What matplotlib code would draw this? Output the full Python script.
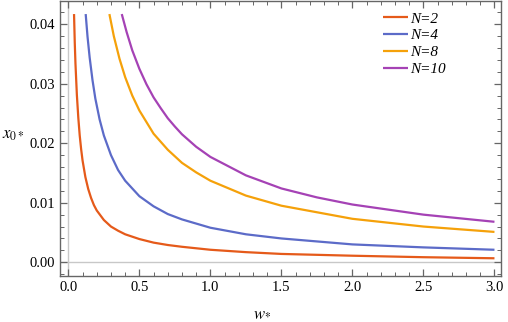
import matplotlib
matplotlib.use('Agg')
import matplotlib.pyplot as plt
from matplotlib.ticker import MultipleLocator

# ── Datos ────────────────────────────────────────────────────
w_n2 = [0.040, 0.045, 0.050, 0.060, 0.070, 0.080, 0.090, 0.100, 0.120, 0.140,
        0.160, 0.180, 0.200, 0.250, 0.300, 0.350, 0.400, 0.500, 0.600, 0.700,
        0.800, 1.000, 1.250, 1.500, 2.000, 2.500, 3.000]
x_n2 = [0.0417, 0.0370, 0.0334, 0.0281, 0.0243, 0.0213, 0.0190, 0.0171, 0.0143, 0.0123,
        0.0108, 0.0096, 0.0087, 0.0071, 0.0060, 0.0053, 0.0047, 0.0039, 0.0033, 0.0029,
        0.0026, 0.0021, 0.0017, 0.0014, 0.0011, 0.00085, 0.00067]

w_n4 = [0.122, 0.135, 0.150, 0.170, 0.190, 0.220, 0.250, 0.300, 0.350, 0.400,
        0.500, 0.600, 0.700, 0.800, 1.000, 1.250, 1.500, 2.000, 2.500, 3.000]
x_n4 = [0.0417, 0.0379, 0.0344, 0.0306, 0.0275, 0.0240, 0.0213, 0.0180, 0.0155, 0.0137,
        0.0111, 0.0094, 0.0081, 0.0072, 0.0058, 0.0047, 0.0040, 0.0030, 0.0025, 0.0021]

w_n8 = [0.289, 0.320, 0.360, 0.400, 0.450, 0.500, 0.600, 0.700, 0.800, 0.900,
        1.000, 1.250, 1.500, 2.000, 2.500, 3.000]
x_n8 = [0.0417, 0.0380, 0.0342, 0.0311, 0.0280, 0.0255, 0.0216, 0.0189, 0.0167, 0.0151,
        0.0137, 0.0112, 0.0095, 0.0073, 0.0060, 0.0051]

w_n10 = [0.376, 0.410, 0.450, 0.500, 0.550, 0.600, 0.650, 0.700, 0.750, 0.800,
         0.900, 1.000, 1.250, 1.500, 1.750, 2.000, 2.500, 3.000]
x_n10 = [0.0417, 0.0387, 0.0356, 0.0325, 0.0299, 0.0277, 0.0259, 0.0242, 0.0228, 0.0215,
         0.0194, 0.0177, 0.0146, 0.0124, 0.0109, 0.0097, 0.0080, 0.0068]

etiquetas = ['N=2', 'N=4', 'N=8', 'N=10']
colores = ['#E55A1A', '#5C6BC8', '#F5A10A', '#A542B5']

plt.rcParams['mathtext.fontset'] = 'stix'
plt.rcParams['font.family'] = 'Liberation Serif'

fig = plt.figure(figsize=(5.08, 3.22), dpi=100)
ax = fig.add_axes([0.1175, 0.143, 0.869, 0.854])

# ejes de Mathematica (líneas grises en 0)
ax.axhline(0, color='#C8C8C8', lw=1.0, zorder=1)
ax.axvline(0, color='#C8C8C8', lw=1.0, zorder=1)

series = [(w_n2, x_n2), (w_n4, x_n4), (w_n8, x_n8), (w_n10, x_n10)]
for (w, x), lab, col in zip(series, etiquetas, colores):
    ax.plot(w, x, color=col, lw=1.6, label=lab, zorder=3, solid_capstyle='butt')

ax.set_xlim(-0.061, 3.047)
ax.set_ylim(-0.0023, 0.0439)

ax.xaxis.set_major_locator(MultipleLocator(0.5))
ax.xaxis.set_minor_locator(MultipleLocator(0.1))
ax.yaxis.set_major_locator(MultipleLocator(0.01))
ax.yaxis.set_minor_locator(MultipleLocator(0.002))
ax.xaxis.set_major_formatter(plt.FuncFormatter(lambda v, p: f'{v:.1f}'))
ax.yaxis.set_major_formatter(plt.FuncFormatter(lambda v, p: f'{v:.2f}'))

ax.tick_params(which='both', direction='in', top=True, right=True,
               color='#666666', labelsize=10.5, labelcolor='black')
ax.tick_params(which='major', length=5, width=0.9)
ax.tick_params(which='minor', length=3, width=0.7)
for sp in ax.spines.values():
    sp.set_color('#666666')
    sp.set_linewidth(1.0)

ax.set_ylabel(r'$x_{0*}$', rotation=0, fontsize=12)
ax.yaxis.set_label_coords(-0.106, 0.484)
ax.set_xlabel(r'$w_{*}$', fontsize=12)
ax.xaxis.set_label_coords(0.458, -0.105)

ax.legend(loc='upper left', bbox_to_anchor=(0.733, 0.96), frameon=False,
          prop={'family': 'Liberation Serif', 'style': 'italic', 'size': 11},
          handlelength=1.6, handletextpad=0.15, labelspacing=0.2,
          borderpad=0, borderaxespad=0)

fig.savefig('out.png', dpi=100)
